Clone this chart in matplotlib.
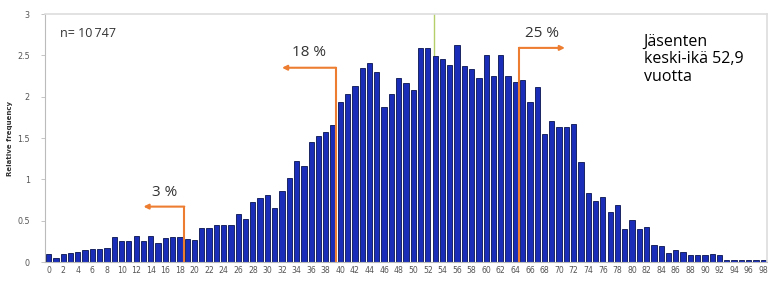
import numpy as np
import matplotlib
matplotlib.use('Agg')
import matplotlib.pyplot as plt

# Age distribution of members (relative frequency, %)
ages = list(range(0, 99))
rel_freq = [
    0.10, 0.05, 0.10, 0.11, 0.12, 0.15, 0.16, 0.16, 0.17, 0.30,
    0.25, 0.25, 0.32, 0.25, 0.32, 0.23, 0.29, 0.30, 0.30, 0.28,
    0.27, 0.41, 0.41, 0.45, 0.45, 0.45, 0.58, 0.52, 0.72, 0.78,
    0.81, 0.65, 0.86, 1.02, 1.22, 1.16, 1.45, 1.52, 1.57, 1.66,
    1.93, 2.03, 2.13, 2.35, 2.41, 2.30, 1.87, 2.03, 2.22, 2.16,
    2.08, 2.59, 2.59, 2.49, 2.45, 2.38, 2.63, 2.37, 2.33, 2.23,
    2.50, 2.25, 2.50, 2.25, 2.18, 2.20, 1.93, 2.12, 1.55, 1.71,
    1.63, 1.63, 1.67, 1.21, 0.83, 0.74, 0.79, 0.61, 0.69, 0.40,
    0.51, 0.40, 0.42, 0.21, 0.19, 0.11, 0.14, 0.12, 0.09, 0.08,
    0.09, 0.10, 0.08, 0.03, 0.02, 0.03, 0.02, 0.02, 0.02,
]
xtick_labels = [str(a) for a in range(0, 99, 2)]

n_text = "n= 10\u2009747"
mean_age = 52.9
mean_text = "Jäsenten\nkeski-ikä 52,9\nvuotta"

# share markers: (cut position, bracket height, arrow end, label, label pos)
cuts = [18.6, 39.4, 64.5]
bracket_y = [0.67, 2.35, 2.59]
arrow_end = [13.0, 32.0, 70.8]
share_labels = ["3 %", "18 %", "25 %"]
label_x = [15.9, 35.7, 67.6]
label_y = [0.84, 2.53, 2.77]

orange = '#ED7D31'

fig = plt.figure(figsize=(7.68, 2.83), dpi=100)
ax = fig.add_axes([0.0586, 0.0742, 0.94, 0.8763])

ax.axvline(mean_age, color='#b5cf6b', lw=1.0, zorder=1)
ax.bar(ages, rel_freq, width=0.72, color='#1a2db8', edgecolor='#081450',
       linewidth=0.6, zorder=2)

for c, by, ae in zip(cuts, bracket_y, arrow_end):
    ax.plot([c, c], [0, by], color=orange, lw=1.5, zorder=3)
    ax.annotate('', xy=(ae, by), xytext=(c, by),
                arrowprops=dict(arrowstyle='-|>', color=orange, lw=1.5,
                                shrinkA=0, shrinkB=0, mutation_scale=7),
                zorder=3)
for t, lx, ly in zip(share_labels, label_x, label_y):
    ax.text(lx, ly, t, ha='center', va='center', fontsize=11,
            color='#333333', family='Open Sans')

ax.text(1.5, 2.77, n_text, ha='left', va='center', fontsize=9,
        color='#333333', family='Open Sans')
ax.text(81.6, 2.45, mean_text, ha='left', va='center', fontsize=11.5,
        color='black', family='Open Sans', linespacing=1.1)

ax.set_xlim(-0.5, 98.5)
ax.set_ylim(0, 3)
ax.set_xticks(range(0, 99, 2))
ax.set_xticklabels(xtick_labels, fontsize=5.6, color='#555555')
ax.set_yticks([0, 0.5, 1, 1.5, 2, 2.5, 3])
ax.set_yticklabels(['0', '0.5', '1', '1.5', '2', '2.5', '3'], fontsize=5.8,
                   color='#555555')
ax.tick_params(axis='x', length=0, pad=3)
ax.tick_params(axis='y', length=3, width=0.6, color='#bbbbbb', pad=8)
ax.set_ylabel('Relative frequency', fontsize=5, fontweight='bold',
              color='#333333', labelpad=3)

for side in ['left', 'bottom']:
    ax.spines[side].set_color('#bbbbbb')
    ax.spines[side].set_linewidth(0.8)
for side in ['top', 'right']:
    ax.spines[side].set_color('#dddddd')
    ax.spines[side].set_linewidth(1.2)

fig.savefig('out.png', dpi=100)
